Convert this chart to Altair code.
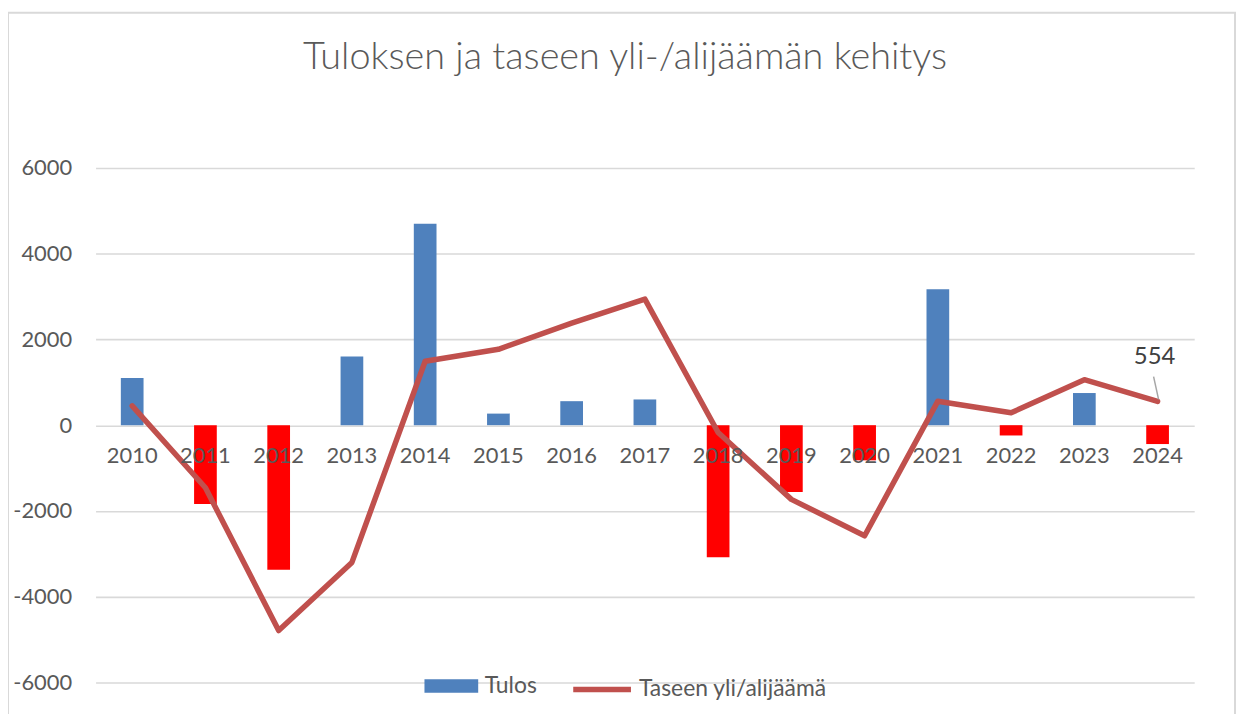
import altair as alt
import pandas as pd

years = ["2010", "2011", "2012", "2013", "2014", "2015", "2016", "2017",
         "2018", "2019", "2020", "2021", "2022", "2023", "2024"]
tulos = [1100, -1840, -3370, 1600, 4700, 270, 560, 600,
         -3080, -1560, -820, 3170, -240, 750, -440]
taseen = [450, -1460, -4790, -3200, 1490, 1770, 2380, 2940,
          -170, -1730, -2580, 560, 290, 1060, 554]
y_ticks = [-6000, -4000, -2000, 0, 2000, 4000, 6000]

df = pd.DataFrame({"year": years, "tulos": tulos, "taseen": taseen})

FONT = "Lato"
GREY = "#595959"
W, H = 1104, 517

xscale = alt.Scale(paddingInner=0.69, paddingOuter=0.345)
yscale = alt.Scale(domain=[-6000, 6000], nice=False, zero=False)

x_enc = alt.X("year:O", scale=xscale, sort=years,
              axis=alt.Axis(orient="bottom", offset=-H / 2, labelAngle=0,
                            domain=False, ticks=False, tickSize=0, grid=False,
                            labelPadding=20, labelFont=FONT, labelFontSize=22,
                            labelColor=GREY, title=None, zindex=1))
y_enc = alt.Y("tulos:Q", scale=yscale,
              axis=alt.Axis(values=y_ticks, labelExpr="'' + datum.value",
                            domain=False, ticks=False, tickSize=0,
                            gridColor="#d9d9d9", gridWidth=1.6,
                            labelPadding=24, labelFont=FONT, labelFontSize=22,
                            labelColor=GREY, title=None))

base = alt.Chart(df)

frame = base.mark_rect(fill="transparent", stroke="#d9d9d9", strokeWidth=2).encode(
    x=alt.value(-88), x2=alt.value(W + 41), y=alt.value(-156), y2=alt.value(H + 80)
).transform_filter("datum.year == '2010'")

bars = base.transform_calculate(series="'Tulos'").mark_bar().encode(
    x=x_enc,
    y=y_enc,
    fill=alt.condition(
        "datum.tulos < 0",
        alt.value("#ff0000"),
        alt.Fill("series:N", scale=alt.Scale(domain=["Tulos"], range=["#4f81bd"]),
                 legend=alt.Legend(orient="none", legendX=344, legendY=507,
                                   title=None, padding=0, labelLimit=0,
                                   symbolType="M-2,-0.5H2V0.5H-2Z", symbolSize=729,
                                   symbolStrokeWidth=0, labelOffset=20,
                                   labelFont=FONT, labelFontSize=23, labelColor=GREY)),
    ),
)

line = base.transform_calculate(series2="'Taseen yli/alijäämä'").mark_line(
    strokeWidth=5.5, strokeJoin="round", strokeCap="round"
).encode(
    x=alt.X("year:O", scale=xscale, sort=years),
    y=alt.Y("taseen:Q", scale=yscale),
    stroke=alt.Stroke("series2:N",
                      scale=alt.Scale(domain=["Taseen yli/alijäämä"], range=["#c0504d"]),
                      legend=alt.Legend(orient="none", legendX=477, legendY=492,
                                        title=None, padding=0, labelLimit=0,
                                        symbolType="stroke", symbolSize=3364,
                                        symbolStrokeWidth=5.5, labelOffset=5,
                                        labelFont=FONT, labelFontSize=23, labelColor=GREY)),
)

last = base.transform_filter("datum.year == '2024'")

leader = last.mark_rule(color="#a6a6a6", strokeWidth=1.5,
                        xOffset=1, yOffset=-2, x2Offset=-4, y2Offset=-25).encode(
    x=alt.X("year:O", scale=xscale, sort=years),
    x2="year:O",
    y=alt.Y("taseen:Q", scale=yscale),
    y2="taseen:Q",
)

label = last.mark_text(font=FONT, fontSize=24, color="#404040",
                       dx=-3, dy=-45, baseline="middle", align="center").encode(
    x=alt.X("year:O", scale=xscale, sort=years),
    y=alt.Y("taseen:Q", scale=yscale),
    text="taseen:Q",
)

chart = alt.layer(frame, bars, line, leader, label).resolve_scale(
    fill="independent", stroke="independent"
).properties(
    width=W, height=H,
    padding={"left": 88, "top": 159, "right": 42, "bottom": 30},
    autosize=alt.AutoSizeParams(type="none"),
    title=alt.TitleParams("Tuloksen ja taseen yli-/alijäämän kehitys",
                          font=FONT, fontSize=38, fontWeight=300, color=GREY,
                          anchor="middle", frame="group", dx=-20,
                          baseline="alphabetic", offset=-96),
).configure_view(stroke=None)

chart.save("out.html", embed_options={"renderer": "svg", "actions": False})
